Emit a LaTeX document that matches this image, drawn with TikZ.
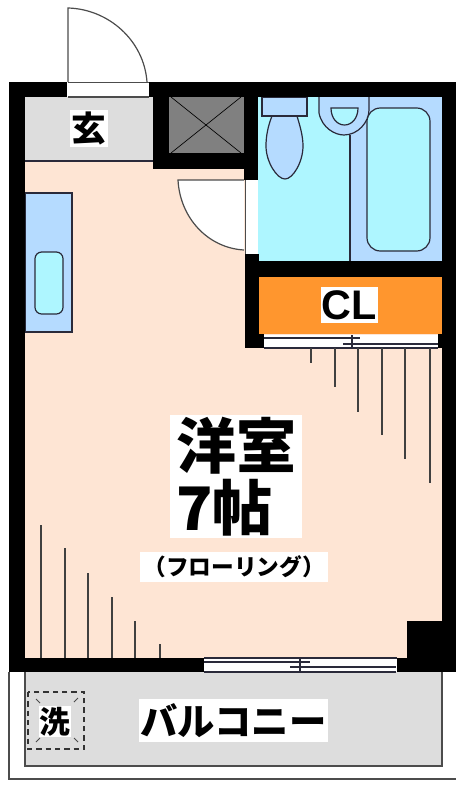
\documentclass[tikz,border=0pt]{standalone}
\usepackage{fontspec}
\setmainfont{Liberation Sans}
\newfontfamily\cjk{Noto Sans CJK JP}[BoldFont={Noto Sans CJK JP Black}]
\definecolor{floorc}{HTML}{FEE5D4}
\definecolor{greyc}{HTML}{DDDDDD}
\definecolor{shaftc}{HTML}{808080}
\definecolor{bluec}{HTML}{B5DBFF}
\definecolor{cyanc}{HTML}{AEF6FF}
\definecolor{orangec}{HTML}{FF962E}
\definecolor{linec}{HTML}{2A2A3A}
\tikzset{
  x=0.75pt,y=-0.75pt,
  thin line/.style={draw=linec,line width=0.9pt},
  hatchline/.style={draw=black!75,line width=0.8pt},
  wall/.style={fill=black,draw=none},
  lbl/.style={fill=white,inner sep=0pt,text=black,font=\cjk\bfseries}
}
\begin{document}
\begin{tikzpicture}
\useasboundingbox (0,0) rectangle (456,786);
\fill[white] (0,0) rectangle (456,786);
% balcony
\draw[thin line,draw=black!70] (9,672) -- (9,779) -- (456,779);
\fill[greyc] (25,672) rectangle (442,766);
\draw[thin line,draw=black!70] (25,672) -- (25,766) -- (442,766) -- (442,672);
% floor
\fill[floorc] (25,97) rectangle (442,658);
% entrance
\fill[greyc] (25,97) rectangle (153,161);
\draw[thin line] (25,161) -- (153,161);
% kitchen
\filldraw[fill=bluec,thin line] (25,193) rectangle (72,332);
\filldraw[fill=cyanc,thin line,rounded corners=5pt] (35,252) rectangle (63,314);
% bath
\fill[cyanc] (258,97) rectangle (350,261);
\fill[bluec] (350,97) rectangle (442,261);
\draw[thin line] (350,135) -- (350,261);
\filldraw[fill=cyanc,thin line,rounded corners=10pt] (367,108) rectangle (430,251);
\filldraw[fill=bluec,thin line] (272,116) .. controls (268,126) and (266,136) .. (266,146) .. controls (266,162) and (277,179) .. (285,179) .. controls (293,179) and (303,162) .. (303,146) .. controls (303,136) and (300,126) .. (297,116);
\filldraw[fill=bluec,thin line] (262,97) rectangle (307,116);
\filldraw[fill=bluec,thin line] (319,97) -- (319,113) .. controls (322,128) and (335,135) .. (344,135) .. controls (358,135) and (369,122) .. (369,110) -- (369,97);
\filldraw[fill=cyanc,thin line] (331,108) -- (358,108) .. controls (358,118) and (352,125) .. (344.5,125) .. controls (337,125) and (331,118) .. (331,108) -- cycle;
% closet
\fill[orangec] (259,277) rectangle (442,334);
% walls
\fill[wall] (9,82) rectangle (67,97);
\fill[wall] (149,82) rectangle (456,97);
\fill[wall] (9,82) rectangle (25,672);
\fill[wall] (442,82) rectangle (456,672);
\fill[wall] (153,97) rectangle (169,169);
\fill[wall] (153,153) rectangle (258,169);
\fill[wall] (244,97) rectangle (258,180);
\fill[wall] (245,254) rectangle (259,348);
\fill[wall] (245,261) rectangle (442,277);
\fill[wall] (259,334) rectangle (264,348);
\fill[wall] (438,334) rectangle (442,348);
\fill[wall] (9,658) rectangle (204,672);
\fill[wall] (397,658) rectangle (456,672);
\fill[wall] (407,621) rectangle (456,658);
% shaft
\filldraw[fill=shaftc,draw=none] (169,97) rectangle (244,153);
\draw[draw=black,line width=0.5pt] (171,97) -- (241,153) (241,97) -- (171,153);
% entrance door
\fill[white] (67,82) rectangle (149,97);
\draw[draw=black!70,line width=0.9pt] (68,82) -- (68,8) .. controls (108,9) and (144,40) .. (147,82);
\draw[draw=black!70,line width=0.75pt] (68,82) -- (149,82);
\draw[draw=black!70,line width=0.9pt] (68,97) -- (149,97);
% toilet door
\fill[white] (178,180) -- (244,180) -- (244,250) .. controls (208,248) and (180,218) .. (178,180) -- cycle;
\draw[draw=black!70,line width=0.9pt] (244,250) .. controls (208,248) and (180,218) .. (178,180) -- (244,180);
\filldraw[fill=white,draw=none] (245,180) rectangle (258,254);
\draw[draw=black!70,line width=0.75pt] (245,180) -- (245,254);
% closet sliding door
\fill[white] (264,335) rectangle (438,348);
\draw[thin line] (264,338) -- (360,338);
\draw[thin line] (343,344) -- (438,344);
\draw[thin line] (264,348) -- (438,348);
\draw[thin line] (352,335) -- (352,348);
% hatching top right
\draw[hatchline] (311,348) -- (311,363);
\draw[hatchline] (335,348) -- (335,387);
\draw[hatchline] (358,348) -- (358,412);
\draw[hatchline] (382,348) -- (382,435);
\draw[hatchline] (405,348) -- (405,459);
\draw[hatchline] (430,348) -- (430,483);
% hatching bottom left
\draw[hatchline] (41,525) -- (41,658);
\draw[hatchline] (65,548) -- (65,658);
\draw[hatchline] (88,573) -- (88,658);
\draw[hatchline] (112,597) -- (112,658);
\draw[hatchline] (135,621) -- (135,658);
\draw[hatchline] (160,644) -- (160,658);
% balcony sliding door
\fill[white] (204,658) rectangle (397,672);
\draw[thin line] (204,658) -- (397,658);
\draw[thin line] (204,662) -- (310,662);
\draw[thin line] (290,667) -- (396,667);
\draw[thin line] (204,672) -- (396,672);
\draw[thin line] (300,658) -- (300,672);
% washer
\draw[draw=black!80,line width=0.9pt,dash pattern=on 4pt off 3pt] (28,692) rectangle (84,749);
\draw[draw=black!70,line width=0.6pt] (36,699) -- (40,703) (78,698) -- (74,702) (36,742) -- (40,738) (78,742) -- (74,738);
% labels
\node[lbl,minimum width=28.5pt,minimum height=27.5pt,font=\cjk\bfseries\fontsize{26pt}{26pt}\selectfont] (gen) at (89,128.5) {玄};
\node[lbl,minimum width=42.75pt,minimum height=27pt,font=\bfseries\fontsize{31pt}{31pt}\selectfont] (cl) at (349.5,305) {CL};
\node[lbl,align=left,minimum width=99pt,minimum height=92.25pt,font=\cjk\bfseries\fontsize{45pt}{47pt}\selectfont] (room) at (236,476.5) {洋室\\7帖};
\node[lbl,minimum width=141pt,minimum height=22.5pt,font=\cjk\bfseries\fontsize{17pt}{17pt}\selectfont] (floor) at (234,567) {（フローリング）};
\node[lbl,minimum width=24pt,minimum height=23.25pt,font=\cjk\bfseries\fontsize{23pt}{23pt}\selectfont] (wash) at (55,721.5) {洗};
\node[lbl,minimum width=141.75pt,minimum height=32pt,font=\cjk\bfseries\fontsize{28pt}{28pt}\selectfont] (balc) at (233.5,720.5) {バルコニー};
\end{tikzpicture}
\end{document}
